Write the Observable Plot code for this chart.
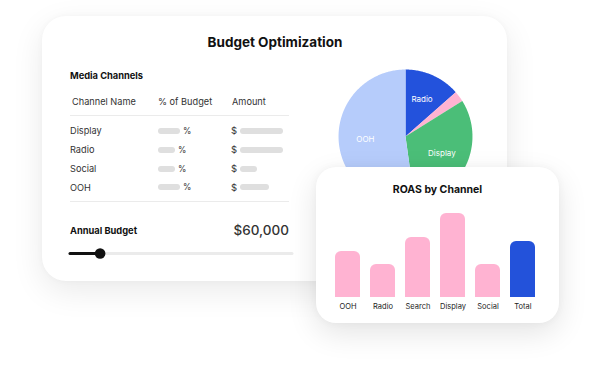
<!DOCTYPE html>
<html><head><meta charset="utf-8">
<script src="https://cdn.jsdelivr.net/npm/d3@7"></script>
<script src="https://cdn.jsdelivr.net/npm/@observablehq/plot@0.6"></script>
<style>
html,body{margin:0;padding:0;background:#fff;}
#root{position:relative;width:602px;height:390px;overflow:hidden;font-family:Inter,"Noto Sans",sans-serif;color:#222;}
.card{position:absolute;background:#fff;}
.t{position:absolute;white-space:nowrap;line-height:1.2;}
.pill{position:absolute;background:#dfdfdf;border-radius:4px;}
.rule{position:absolute;height:1px;background:#ebebeb;}
.plot{position:absolute;overflow:visible;background:transparent;}
</style></head><body><div id="root"></div>
<script>
// ---------- data ----------
const pieChannels = ["Radio", "Social", "Display", "OOH"];
const pieShares = [13.5, 2.6, 31.7, 52.2];
const pieLabels = ["Radio", "", "Display", "OOH"];
const pieColors = ["#2352dc", "#ffb3d2", "#4bbe78", "#b6ccfb"];

const roasChannels = ["OOH", "Radio", "Search", "Display", "Social", "Total"];
const roasValues = [4.6, 3.3, 6.0, 8.4, 3.3, 5.6];

const tableHeaders = ["Channel Name", "% of Budget", "Amount"];
const tableChannels = ["Display", "Radio", "Social", "OOH"];
const pctPlaceholder = [22, 17, 17, 22];
const amountPlaceholder = [43, 43, 17, 29];

const annualBudget = 60000;
const budgetRange = [40000, 190000];

// ---------- helpers ----------
const root = document.getElementById("root");
function el(cls, css, text) {
  const d = document.createElement("div");
  d.className = cls;
  Object.assign(d.style, css);
  if (text != null) d.textContent = text;
  root.appendChild(d);
  return d;
}
function txt(s, x, cy, size, weight, color, align) {
  const css = {top: (cy - size * 0.6) + "px", fontSize: size + "px", fontWeight: weight, color: color};
  if (align === "right") css.right = (602 - x) + "px"; else css.left = x + "px";
  return el("t", css, s);
}

// ---------- card 1 ----------
el("card", {left: "42px", top: "16px", width: "465px", height: "265px", borderRadius: "24px",
  boxShadow: "0 10px 32px rgba(0,0,0,0.085), 0 0 6px rgba(0,0,0,0.03)"});

txt("Budget Optimization", 275, 42, 13.5, 700, "#111").style.transform = "translateX(-50%)";
txt("Media Channels", 70, 75.5, 9.3, 700, "#111");
const headerX = [72, 158, 232];
tableHeaders.forEach((h, i) => txt(h, headerX[i], 101.5, 9.2, 400, "#333"));
el("rule", {left: "70px", top: "115px", width: "219px"});
tableChannels.forEach((c, i) => {
  const cy = 131 + i * 18.8;
  txt(c, 70, cy, 9.2, 400, "#333");
  el("pill", {left: "158px", top: (cy - 3) + "px", width: pctPlaceholder[i] + "px", height: "6px"});
  txt("%", 158 + pctPlaceholder[i] + 3, cy, 8.5, 400, "#333");
  txt("$", 231, cy, 9.5, 400, "#333");
  el("pill", {left: "240px", top: (cy - 3) + "px", width: amountPlaceholder[i] + "px", height: "6px"});
});
el("rule", {left: "70px", top: "201px", width: "219px"});
txt("Annual Budget", 70, 231, 9.3, 700, "#111");
txt("$" + d3.format(",")(annualBudget), 289, 230.5, 13.5, 500, "#333", "right");

// slider
const slider = Plot.plot({
  width: 230, height: 16, marginLeft: 4, marginRight: 4, marginTop: 0, marginBottom: 0,
  x: {domain: budgetRange, axis: null},
  y: {domain: [-1, 1], axis: null},
  marks: [
    Plot.ruleY([0], {x1: budgetRange[0], x2: budgetRange[1], stroke: "#ebebeb", strokeWidth: 3, strokeLinecap: "round"}),
    Plot.ruleY([0], {x1: budgetRange[0], x2: annualBudget, stroke: "#111", strokeWidth: 3, strokeLinecap: "round"}),
    Plot.dot([annualBudget], {x: d => d, y: 0, r: 5.3, fill: "#111"})
  ]
});
slider.classList.add("plot");
Object.assign(slider.style, {left: "66px", top: "244.5px"});
root.appendChild(slider);

// pie
const arcs = d3.pie().sort(null).value(d => d.share)(
  pieChannels.map((c, i) => ({channel: c, share: pieShares[i], label: pieLabels[i]})));
const piePts = [];
for (const a of arcs) {
  piePts.push({channel: a.data.channel, x: 0, y: 0});
  const n = Math.max(2, Math.ceil((a.endAngle - a.startAngle) / 0.01));
  for (let k = 0; k <= n; k++) {
    const t = a.startAngle + (a.endAngle - a.startAngle) * k / n;
    piePts.push({channel: a.data.channel, x: Math.sin(t), y: Math.cos(t)});
  }
}
const mid = a => (a.startAngle + a.endAngle) / 2;
const pie = Plot.plot({
  width: 150, height: 150, margin: 0,
  x: {domain: [-1.12, 1.12], axis: null},
  y: {domain: [-1.12, 1.12], axis: null},
  color: {domain: pieChannels, range: pieColors},
  style: {fontFamily: "Inter, sans-serif"},
  marks: [
    Plot.line(piePts, {x: "x", y: "y", z: "channel", fill: "channel", stroke: "none"}),
    Plot.text(arcs.filter(a => a.data.label), {
      x: a => 0.6 * Math.sin(mid(a)), y: a => 0.6 * Math.cos(mid(a)),
      text: a => a.data.label, fill: "white", fontSize: 8
    })
  ]
});
pie.classList.add("plot");
Object.assign(pie.style, {left: "330px", top: "61px"});
root.appendChild(pie);

// ---------- card 2 ----------
el("card", {left: "316px", top: "167px", width: "243px", height: "156px", borderRadius: "20px",
  boxShadow: "0 10px 30px rgba(0,0,0,0.11), 0 0 8px rgba(0,0,0,0.04)"});
txt("ROAS by Channel", 437.5, 190, 10.5, 700, "#111").style.transform = "translateX(-50%)";

const roasData = roasChannels.map((c, i) => ({channel: c, roas: roasValues[i], kind: c === "Total" ? "total" : "channel"}));
const bars = Plot.plot({
  width: 222, height: 115, marginLeft: 8, marginRight: 11, marginTop: 7, marginBottom: 18,
  x: {domain: roasChannels, paddingInner: 0.28, paddingOuter: 0, label: null},
  y: {domain: [0, 9], axis: null},
  color: {domain: ["channel", "total"], range: ["#ffb3d2", "#2352da"]},
  style: {fontFamily: "Inter, sans-serif", fontSize: "7.5px", color: "#222"},
  marks: [
    Plot.barY(roasData, {x: "channel", y: "roas", fill: "kind", rx: 6}),
    Plot.barY(roasData, {x: "channel", y1: 0, y2: d => Math.min(d.roas, 1), fill: "kind"}),
    Plot.axisX({tickSize: 0, tickPadding: 6, fontSize: 7.5, fill: "#222"})
  ]
});
bars.classList.add("plot");
Object.assign(bars.style, {left: "326px", top: "200px"});
root.appendChild(bars);
</script></body></html>
